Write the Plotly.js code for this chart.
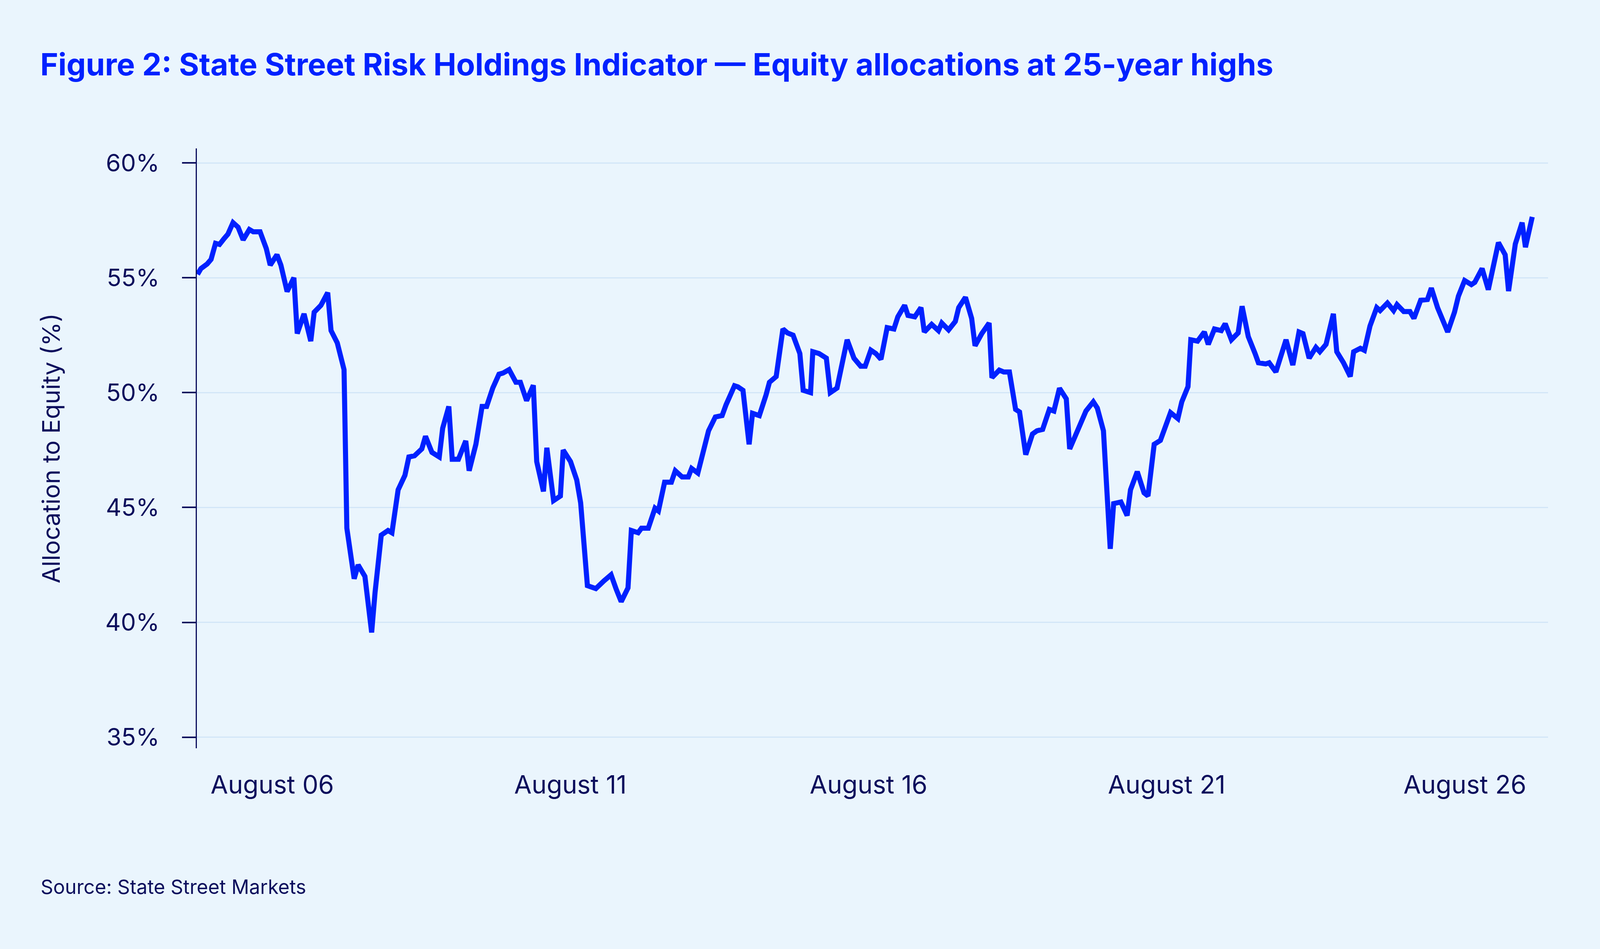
<!DOCTYPE html>
<html>
<head>
<meta charset="utf-8">
<script src="https://cdn.plot.ly/plotly-3.0.1.min.js"></script>
<style>
  html, body { margin: 0; padding: 0; background: #eaf5fd; overflow: hidden; }
  #chart { width: 100vw; height: 100vh; }
</style>
</head>
<body>
<div id="chart"></div>
<script>
// reading dates (decimal years) and equity allocation (%)
var dates = [
  2005.327, 2005.384, 2005.488, 2005.554, 2005.629, 2005.696, 2005.771, 2005.837, 2005.922, 2006.007,
  2006.092, 2006.196, 2006.262, 2006.376, 2006.480, 2006.546, 2006.659, 2006.725, 2006.829, 2006.943,
  2006.999, 2007.113, 2007.226, 2007.283, 2007.396, 2007.510, 2007.566, 2007.670, 2007.784, 2007.831,
  2007.954, 2008.020, 2008.134, 2008.247, 2008.304, 2008.408, 2008.521, 2008.587, 2008.691, 2008.805,
  2008.871, 2008.965, 2009.088, 2009.150, 2009.258, 2009.381, 2009.438, 2009.541, 2009.598, 2009.702,
  2009.825, 2009.882, 2009.995, 2010.099, 2010.175, 2010.278, 2010.382, 2010.449, 2010.552, 2010.666,
  2010.741, 2010.845, 2010.958, 2011.015, 2011.128, 2011.185, 2011.298, 2011.412, 2011.459, 2011.582,
  2011.686, 2011.752, 2011.865, 2012.007, 2012.139, 2012.262, 2012.347, 2012.432, 2012.546, 2012.602,
  2012.716, 2012.772, 2012.886, 2012.999, 2013.056, 2013.160, 2013.273, 2013.339, 2013.453, 2013.557,
  2013.613, 2013.717, 2013.897, 2014.011, 2014.124, 2014.190, 2014.332, 2014.389, 2014.474, 2014.577,
  2014.634, 2014.748, 2014.861, 2014.918, 2015.031, 2015.144, 2015.220, 2015.314, 2015.428, 2015.484,
  2015.607, 2015.645, 2015.749, 2015.872, 2015.938, 2016.051, 2016.221, 2016.335, 2016.448, 2016.524,
  2016.618, 2016.703, 2016.788, 2016.892, 2017.005, 2017.071, 2017.185, 2017.241, 2017.355, 2017.459,
  2017.515, 2017.638, 2017.752, 2017.808, 2017.922, 2018.035, 2018.092, 2018.205, 2018.309, 2018.366,
  2018.479, 2018.602, 2018.649, 2018.772, 2018.848, 2018.942, 2019.046, 2019.112, 2019.216, 2019.329,
  2019.405, 2019.499, 2019.612, 2019.688, 2019.782, 2019.896, 2019.953, 2020.142, 2020.226, 2020.349,
  2020.416, 2020.519, 2020.633, 2020.690, 2020.812, 2020.916, 2020.973, 2021.086, 2021.200, 2021.266,
  2021.370, 2021.474, 2021.540, 2021.644, 2021.767, 2021.833, 2021.937, 2021.984, 2022.097, 2022.211,
  2022.277, 2022.381, 2022.495, 2022.561, 2022.665, 2022.778, 2022.844, 2022.948, 2023.062, 2023.118,
  2023.241, 2023.298, 2023.411, 2023.496, 2023.581, 2023.695, 2023.799, 2023.865, 2023.969, 2024.082,
  2024.148, 2024.252, 2024.375, 2024.432, 2024.545, 2024.658, 2024.715, 2024.828, 2024.895, 2024.989,
  2025.102, 2025.159, 2025.281, 2025.385, 2025.442, 2025.555, 2025.659, 2025.726, 2025.839, 2025.952,
  2026.018, 2026.122, 2026.188, 2026.292, 2026.406, 2026.472, 2026.576, 2026.689, 2026.746, 2026.869,
  2026.973, 2027.048, 2027.143, 2027.256, 2027.313, 2027.426, 2027.540, 2027.596, 2027.710
]

var equity = [
  55.15, 55.4, 55.6, 55.8, 56.5, 56.45, 56.7, 56.9, 57.4, 57.2,
  56.65, 57.1, 57.0, 57.0, 56.27, 55.55, 56.0, 55.55, 54.4, 55.0,
  52.57, 53.43, 52.24, 53.5, 53.8, 54.35, 52.7, 52.17, 51.0, 44.1,
  41.9, 42.5, 42.0, 39.56, 41.3, 43.8, 44.0, 43.9, 45.77, 46.4,
  47.2, 47.25, 47.55, 48.1, 47.4, 47.2, 48.45, 49.4, 47.1, 47.1,
  47.9, 46.6, 47.75, 49.4, 49.4, 50.2, 50.8, 50.85, 51.0, 50.45,
  50.45, 49.65, 50.32, 47.0, 45.7, 47.6, 45.3, 45.5, 47.5, 47.0,
  46.2, 45.2, 41.6, 41.47, 41.8, 42.07, 41.45, 40.9, 41.5, 44.0,
  43.9, 44.1, 44.1, 44.97, 44.85, 46.1, 46.1, 46.6, 46.33, 46.33,
  46.7, 46.5, 48.34, 48.94, 49.0, 49.47, 50.3, 50.25, 50.1, 47.75,
  49.1, 49.0, 49.9, 50.45, 50.7, 52.77, 52.6, 52.5, 51.7, 50.1,
  50.0, 51.78, 51.7, 51.5, 50.0, 50.2, 52.3, 51.5, 51.15, 51.15,
  51.85, 51.7, 51.45, 52.83, 52.77, 53.3, 53.8, 53.36, 53.3, 53.7,
  52.64, 52.97, 52.7, 53.03, 52.73, 53.1, 53.7, 54.15, 53.23, 52.04,
  52.57, 53.03, 50.65, 50.98, 50.9, 50.9, 49.27, 49.16, 47.3, 48.2,
  48.34, 48.4, 49.27, 49.2, 50.19, 49.73, 47.55, 48.67, 49.2, 49.6,
  49.33, 48.34, 43.2, 45.17, 45.24, 44.65, 45.77, 46.56, 45.64, 45.5,
  47.75, 47.92, 48.34, 49.13, 48.87, 49.6, 50.26, 52.3, 52.24, 52.64,
  52.1, 52.77, 52.7, 53.0, 52.3, 52.6, 53.76, 52.44, 51.7, 51.3,
  51.25, 51.3, 50.9, 51.7, 52.3, 51.2, 52.64, 52.57, 51.5, 51.97,
  51.78, 52.1, 53.43, 51.78, 51.3, 50.7, 51.78, 51.93, 51.84, 52.9,
  53.7, 53.57, 53.9, 53.57, 53.83, 53.53, 53.53, 53.23, 54.02, 54.05,
  54.55, 53.7, 53.3, 52.64, 53.5, 54.2, 54.88, 54.7, 54.8, 55.4,
  54.48, 55.47, 56.53, 56.0, 54.42, 56.47, 57.4, 56.33, 57.65
]

var xTickVals = [2006.58, 2011.58, 2016.58, 2021.58, 2026.58]
var xTickText = ['August 06', 'August 11', 'August 16', 'August 21', 'August 26']
var yTickVals = [35, 40, 45, 50, 55, 60]
var yTickText = ['35%', '40%', '45%', '50%', '55%', '60%']

var navy = '#0b0d5c'
var blue = '#0021ff'
var bg = '#eaf5fd'

// positions were measured on a 4734 x 2430 canvas, map them onto the real window
var W = window.innerWidth
var H = window.innerHeight
var sx = W / 4734
var sy = H / 2430
function X(v) { return v * sx }
function Y(v) { return v * sy }

var plotL = X(583), plotR = X(4580)
var plotT = Y(380), plotB = Y(1916)

Plotly.newPlot(document.getElementById('chart'), [
  {
    x: dates,
    y: equity,
    type: 'scatter',
    mode: 'lines',
    line: { color: blue, width: X(15) },
    hoverinfo: 'skip'
  }
], {
  width: W,
  height: H,
  paper_bgcolor: bg,
  plot_bgcolor: bg,
  showlegend: false,
  margin: { l: plotL, r: W - plotR, t: plotT, b: H - plotB, pad: 0 },
  font: { family: 'Inter, sans-serif', color: navy },
  title: {
    text: 'Figure 2: State Street Risk Holdings Indicator \u2014 Equity allocations at 25-year highs',
    font: { family: 'Inter, sans-serif', size: X(90.7), weight: 700, color: blue },
    xref: 'container',
    yref: 'container',
    x: 119 / 4734,
    xanchor: 'left',
    y: 1 - Y(138) / H,
    yanchor: 'top'
  },
  xaxis: {
    range: [2005.316, 2027.975],
    tickvals: xTickVals,
    ticktext: xTickText,
    ticks: '',
    showgrid: false,
    zeroline: false,
    showline: false,
    tickfont: { size: X(75), color: navy },
    ticklabelstandoff: Math.round(Y(50))
  },
  yaxis: {
    range: [34.52, 60.63],
    tickvals: yTickVals,
    ticktext: yTickText,
    showgrid: true,
    gridcolor: '#d2e6f8',
    gridwidth: Y(3),
    zeroline: false,
    showline: true,
    linecolor: navy,
    linewidth: X(4),
    ticks: 'outside',
    ticklen: Math.round(X(40)),
    tickwidth: Y(4),
    tickcolor: navy,
    tickfont: { size: X(71), color: navy },
    ticklabelstandoff: Math.round(X(52)),
    title: {
      text: 'Allocation to Equity (%)',
      font: { size: X(72), color: navy },
      standoff: Math.round(X(111))
    }
  },
  annotations: [
    {
      text: 'Source: State Street Markets',
      xref: 'paper',
      yref: 'paper',
      x: (X(119) - plotL) / (plotR - plotL),
      y: (plotB - Y(2303)) / (plotB - plotT),
      xanchor: 'left',
      yanchor: 'bottom',
      showarrow: false,
      font: { size: X(58), color: navy }
    }
  ]
}, { staticPlot: true })
</script>
</body>
</html>
